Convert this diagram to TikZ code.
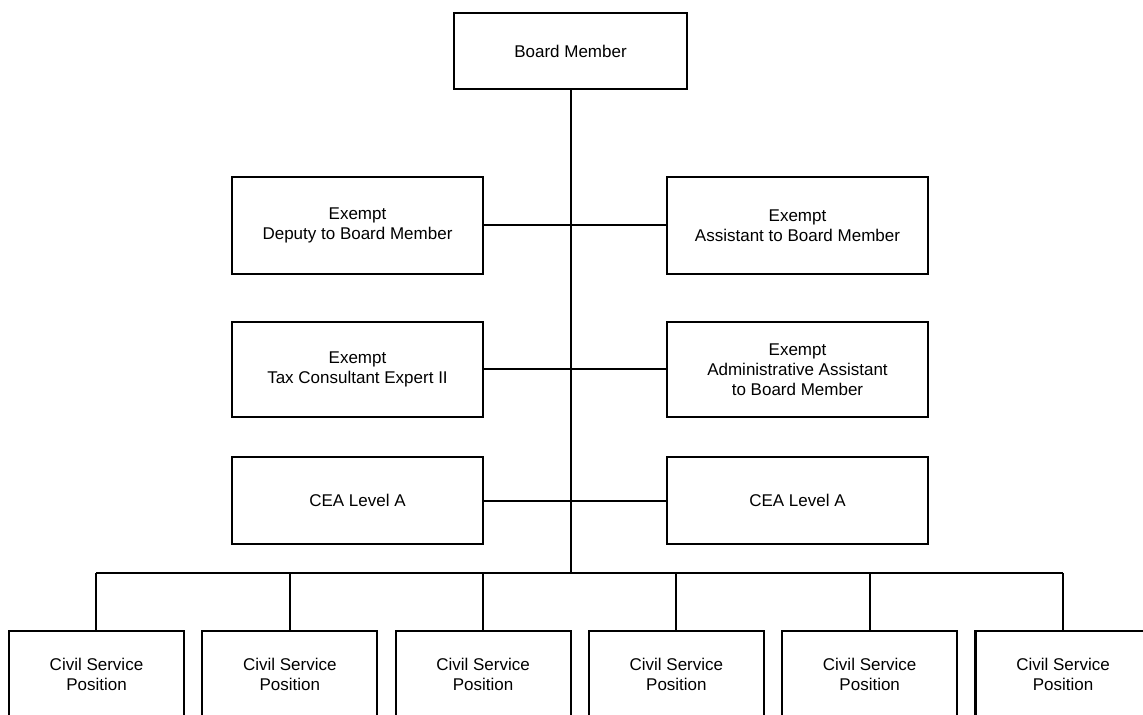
\documentclass[tikz,border=0pt]{standalone}
\usepackage{fontspec}
\setmainfont{Liberation Sans}
\usetikzlibrary{positioning,calc}

\begin{document}
\begin{tikzpicture}[
  blk/.style={draw,line width=1.1pt,outer sep=0pt,align=center,font=\fontsize{8.5}{10}\selectfont},
  lft/.style={blk,minimum width=125.5pt},
  rgt/.style={blk,minimum width=130.5pt},
  csp/.style={blk,minimum width=87.5pt,minimum height=43pt},
  ln/.style={line width=1pt},
  node distance=24pt]
\useasboundingbox (-285.25pt,25.5pt) rectangle (286.25pt,-332pt);
\node[blk,minimum width=116.5pt,minimum height=38pt] (bm) {Board Member};
% exempt staff
\node[lft,minimum height=48.5pt,below=44pt of bm,xshift=-106.5pt] (dep) {Exempt\\ Deputy to Board Member};
\node[rgt,minimum height=48.5pt,below=44pt of bm,xshift=113.5pt] (asst) {Exempt\\ Assistant to Board Member};
\node[lft,minimum height=47.5pt,below=of dep] (tax) {Exempt\\ Tax Consultant Expert II};
\node[rgt,minimum height=47.5pt,below=of asst] (adm) {Exempt\\ Administrative Assistant\\ to Board Member};
\node[lft,minimum height=43.5pt,below=20pt of tax] (ceal) {CEA Level A};
\node[rgt,minimum height=43.5pt,below=20pt of adm] (cear) {CEA Level A};
% civil service row
\coordinate (bus) at ($(cear.south -| bm.south)+(0,-14.5pt)$);
\node[csp,below=29pt of bus,xshift=-237pt] (cs1) {Civil Service\\ Position};
\foreach \i [remember=\i as \j (initially 1)] in {2,...,6}
  \node[csp,right=9.15pt of cs\j] (cs\i) {Civil Service\\ Position};
\draw[ln] (bm.south)--(bus);
\draw[ln] (dep.east)--(asst.west);
\draw[ln] (tax.east)--(adm.west);
\draw[ln] (ceal.east)--(cear.west);
\draw[ln] (bus -| cs1)--(bus -| cs6);
\foreach \i in {1,...,6}
  \draw[ln] (bus -| cs\i)--(cs\i.north);
\end{tikzpicture}
\end{document}
